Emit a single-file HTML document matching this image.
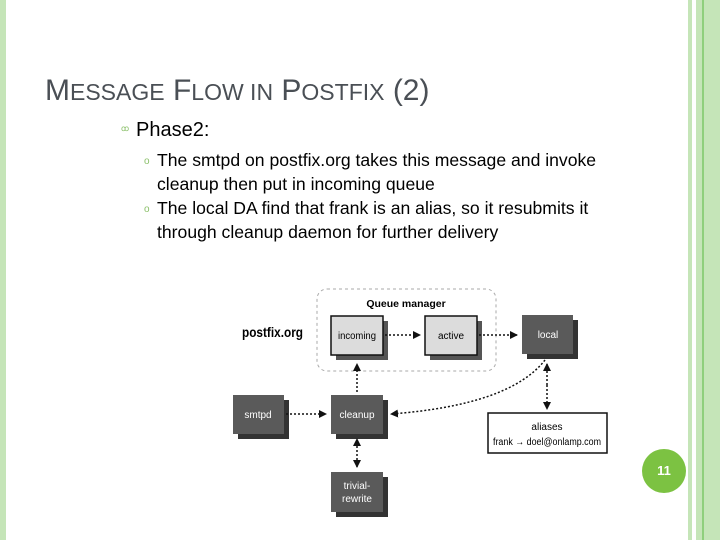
<!DOCTYPE html>
<html><head><style>
body{margin:0;width:720px;height:540px;position:relative;background:#fff;font-family:"Liberation Sans",sans-serif;overflow:hidden}
.s{position:absolute;top:0;height:540px}
.t{position:absolute;color:#000}
</style></head><body>
<div class="s" style="left:0;width:6px;background:#c5e5b8"></div>
<div class="s" style="left:688px;width:4px;background:#c5e5b8"></div>
<div class="s" style="left:696px;width:6px;background:#c5e5b8"></div>
<div class="s" style="left:702px;width:2px;background:#8fcf7c"></div>
<div class="s" style="left:704px;width:16px;background:#c5e5b8"></div>
<div class="t" style="left:45px;top:74px;font-size:30px;color:#4a4f55;letter-spacing:0px">M<span style="font-size:23px">ESSAGE</span> F<span style="font-size:23px">LOW IN</span> P<span style="font-size:23px">OSTFIX</span> (2)</div>
<div class="t" style="left:121px;top:124px;font-size:8px;color:#8bc06a">ꝏ</div>
<div class="t" style="left:136px;top:119px;font-size:20px">Phase2:</div>
<div class="t" style="left:144px;top:148px;font-size:17.6px;line-height:24px;width:480px"><span style="font-size:10px;color:#8bc06a;position:absolute;left:0;top:2px">o</span><div style="padding-left:13px">The smtpd on postfix.org takes this message and invoke cleanup then put in incoming queue</div><span style="font-size:10px;color:#8bc06a;position:absolute;left:0;top:50px">o</span><div style="padding-left:13px">The local DA find that frank is an alias, so it resubmits it through cleanup daemon for further delivery</div></div>
<svg width="720" height="540" style="position:absolute;left:0;top:0" font-family="Liberation Sans, sans-serif">
<defs><marker id="a" markerWidth="8" markerHeight="8" refX="7" refY="4" orient="auto" markerUnits="userSpaceOnUse"><path d="M0,0L8,4L0,8z" fill="#111"/></marker></defs>
<rect x="317" y="289" width="179" height="82" rx="10" fill="none" stroke="#aaa" stroke-dasharray="3,3"/>
<text x="406" y="307" font-size="10.5" font-weight="bold" text-anchor="middle">Queue manager</text>
<text x="242" y="337" font-size="13.5" font-weight="bold" textLength="61" lengthAdjust="spacingAndGlyphs">postfix.org</text>
<g font-size="10" text-anchor="middle">
<rect x="336" y="321" width="52" height="39" fill="#555"/><rect x="331" y="316" width="52" height="39" fill="#dcdcdc" stroke="#111" stroke-width="1.5"/><text x="357" y="339" textLength="38" lengthAdjust="spacingAndGlyphs">incoming</text>
<rect x="430" y="321" width="52" height="39" fill="#555"/><rect x="425" y="316" width="52" height="39" fill="#dcdcdc" stroke="#111" stroke-width="1.5"/><text x="451" y="339">active</text>
<rect x="527" y="320" width="51" height="39" fill="#333"/><rect x="522" y="315" width="51" height="39" fill="#5a5a5a"/><text x="548" y="338" fill="#fff">local</text>
<rect x="238" y="400" width="51" height="39" fill="#333"/><rect x="233" y="395" width="51" height="39" fill="#5a5a5a"/><text x="258" y="418" fill="#fff">smtpd</text>
<rect x="336" y="400" width="52" height="39" fill="#333"/><rect x="331" y="395" width="52" height="39" fill="#5a5a5a"/><text x="357" y="418" fill="#fff">cleanup</text>
<rect x="336" y="477" width="52" height="40" fill="#333"/><rect x="331" y="472" width="52" height="40" fill="#5a5a5a"/><text x="357" y="489" fill="#fff">trivial-</text><text x="357" y="502" fill="#fff">rewrite</text>
<rect x="488" y="413" width="119" height="40" fill="#fff" stroke="#111" stroke-width="1.5"/><text x="547" y="430">aliases</text><text x="547" y="445" textLength="108" lengthAdjust="spacingAndGlyphs">frank → doel@onlamp.com</text>
</g>
<g stroke="#111" stroke-width="1.5" stroke-dasharray="2,2" fill="none" marker-end="url(#a)">
<line x1="385" y1="335" x2="420" y2="335"/>
<line x1="479" y1="335" x2="517" y2="335"/>
<line x1="286" y1="414" x2="326" y2="414"/>
<line x1="357" y1="392" x2="357" y2="364"/>
<line x1="357" y1="446" x2="357" y2="467"/>
<line x1="547" y1="385" x2="547" y2="409"/>
<line x1="547" y1="385" x2="547" y2="364"/>
<path d="M545,360 Q510,405 391,414"/>
</g>
<path d="M353,446L357,438L361,446z" fill="#111"/>
</svg>
<div style="position:absolute;left:642px;top:449px;width:44px;height:44px;border-radius:50%;background:#7cc242;color:#fff;font-size:13px;font-weight:bold;text-align:center;line-height:44px">11</div>
</body></html>
